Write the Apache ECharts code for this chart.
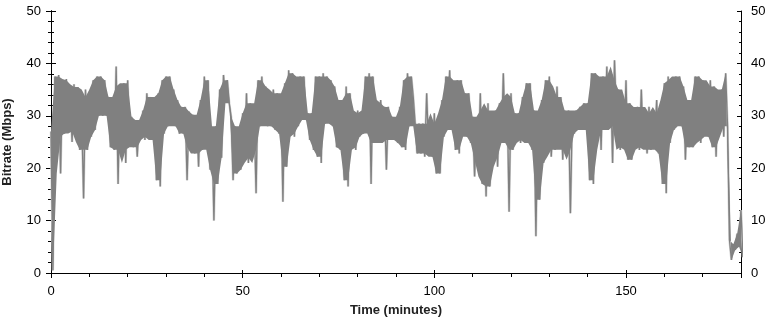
<!DOCTYPE html>
<html>
<head>
<meta charset="utf-8">
<script src="https://cdn.jsdelivr.net/npm/echarts@6/dist/echarts.min.js"></script>
<style>
html, body { margin: 0; padding: 0; background: #fff; }
#chart { width: 773px; height: 321px; }
</style>
</head>
<body>
<div id="chart"></div>
<script>
// minute index 0..180
var minutes = [];
for (var m = 0; m <= 180; m++) minutes.push(m);

// upper peaks, one per minute (Mbps)
var peakHigh = [
	27, 37.5, 37.8, 36.8, 37, 34, 36, 35.5, 30.5, 35,
	33.6, 36.8, 37.5, 37.5, 36.8, 33.6, 33, 39.4, 35.6, 36.2,
	36.8, 29.8, 29.2, 29.2, 31, 34.3, 33.6, 33, 34.3, 36.8,
	37.5, 37.5, 35, 33, 31.7, 31.7, 30.8, 30.2, 29.8, 33,
	37.5, 36.8, 27.3, 28, 35, 37.8, 36.8, 29.8, 28, 26,
	30.5, 34.3, 32.4, 29.8, 36.8, 37.5, 35.6, 34.3, 35, 34.3,
	33.6, 36.2, 38.7, 38.1, 36.8, 37.5, 37.5, 30.5, 30.5, 37.5,
	37.5, 38.1, 37.5, 36.8, 35.6, 33, 28, 35.6, 34.3, 30.5,
	31, 29.8, 37.5, 38.1, 37.5, 32.4, 33, 31.7, 31.7, 29.8,
	28.5, 31.7, 36.8, 38.1, 37.5, 28.5, 28.5, 28.5, 34.3, 28.5,
	30.5, 28.5, 33, 37.5, 38.7, 35, 36.8, 36.8, 34.3, 34.3,
	29.8, 28, 34.3, 31, 32.4, 30.5, 31, 32.4, 38.1, 33.6,
	34.3, 30.5, 30.5, 33.6, 36.2, 36.2, 31, 29.8, 33, 36.8,
	37.5, 29.8, 35.6, 33.6, 31, 31, 30.5, 31, 31.7, 32.4,
	32.4, 38.1, 38.1, 36.8, 37.5, 39.4, 36.8, 40.6, 35, 31.7,
	36.8, 32.4, 30.5, 31.7, 35, 30.5, 31.7, 30.5, 33, 29.8,
	36.2, 37.5, 36.8, 37.5, 37.5, 35.6, 33, 33, 37.5, 37.5,
	36.8, 32.4, 36.8, 35.6, 33.6, 35, 38.1, 6.3, 5.5, 7.5,
	12
];

// lower dips, half a minute later (Mbps)
var peakLow = [
	0.5, 26, 19, 26.6, 28, 25, 27, 23.5, 14.2, 23.5,
	26, 27.3, 30, 30, 30, 24, 23.5, 17, 23.5, 21,
	26, 24, 22.2, 26, 25.4, 28.5, 25.4, 17.7, 16.5, 26.6,
	28, 30, 28, 26.6, 26.6, 17.7, 24, 22.8, 20.3, 23.5,
	26.6, 19.7, 10, 17, 22, 33, 32.4, 17.7, 19, 19.7,
	22, 21, 23.5, 15.2, 28, 28.5, 28, 28, 27.3, 26.6,
	13.6, 20.3, 26.6, 26, 28, 30, 29.2, 25.4, 23.5, 22.2,
	21, 28.5, 30, 28, 24, 23.5, 17.7, 16.5, 24, 23.5,
	26, 26.6, 28, 17, 24.8, 24.8, 26, 19.7, 25.4, 25.4,
	24.8, 24, 23.5, 28, 33.6, 22.8, 22.8, 22.2, 24, 22.2,
	19, 19, 26, 28.5, 27.3, 23.5, 22.8, 26.6, 26, 24.8,
	18.4, 21.6, 17, 14.6, 16.5, 22.2, 20.3, 24.8, 25.4, 11.7,
	23.5, 26.6, 24.8, 25.4, 24.8, 23.5, 7, 14, 21, 23.5,
	22.2, 23.5, 24.8, 21.6, 23.5, 11.4, 26.6, 27.3, 27.3, 27.3,
	17.7, 17, 31, 23.5, 27.3, 28, 21, 30, 23.5, 24,
	21.6, 21.6, 24, 23.5, 24, 22.8, 23.5, 24.8, 22.8, 17,
	15.2, 24.8, 27.3, 30.5, 28, 21.6, 24, 24, 25.4, 24.8,
	27.3, 26, 24, 22.2, 28, 26, 28, 2.5, 4.4, 5,
	3
];

var yTicks = [0, 10, 20, 30, 40, 50];
var xTicks = [0, 50, 100, 150];

window.onload = function(){
	initBitrate();
};

function mid3(a, b, c) {
	return Math.max(Math.min(a, b), Math.min(Math.max(a, b), c));
}

function initBitrate(){
	var myChart = echarts.init(document.getElementById('chart'), null, {renderer: 'canvas'});
	var n = minutes.length;

	// zigzag between the peak and the dip of each minute
	var points = [];
	for (var i = 0; i < n; i++) {
		points.push([minutes[i], peakHigh[i]]);
		points.push([minutes[i] + 0.5, peakLow[i]]);
	}

	// dense core of the trace: lone spikes are left to the thin zigzag
	function renderCore(params, api) {
		if (params.dataIndex !== 0) return;
		var top = [], bottom = [];
		for (var i = 0; i < n; i++) {
			var a = Math.max(i - 1, 0), b = Math.min(i + 1, n - 1);
			var hi = mid3(peakHigh[a], peakHigh[i], peakHigh[b]);
			var lo = mid3(peakLow[a], peakLow[i], peakLow[b]);
			if (i >= 176) { hi = peakHigh[i]; lo = peakLow[i]; }
			if (lo > hi) lo = hi;
			top.push(api.coord([minutes[i], hi]));
			bottom.unshift(api.coord([minutes[i] + 0.5, lo]));
		}
		return {
			type: 'polygon',
			shape: {points: top.concat(bottom)},
			style: {fill: '#808080'}
		};
	}

	var labelFont = {color: '#000', fontSize: 13, fontFamily: 'Liberation Sans, Arial, sans-serif'};
	var nameFont = {color: '#222', fontSize: 13, fontWeight: 'bold', fontFamily: 'Liberation Sans, Arial, sans-serif'};
	var blackLine = {show: true, lineStyle: {color: '#000', width: 1}};

	var option = {
		animation: false,
		backgroundColor: '#fff',
		grid: {
			left: 51,
			right: 32,
			top: 11,
			bottom: 48,
			containLabel: false,
			outerBoundsMode: 'none'
		},
		xAxis: [{
			type: 'value',
			min: xTicks[0],
			max: 180,
			interval: xTicks[1] - xTicks[0],
			position: 'bottom',
			name: 'Time (minutes)',
			nameLocation: 'middle',
			nameGap: 31,
			nameTextStyle: nameFont,
			axisLine: blackLine,
			axisTick: {show: true, length: 5, lineStyle: {color: '#000'}},
			minorTick: {show: true, splitNumber: 5, length: 3, lineStyle: {color: '#000'}},
			axisLabel: Object.assign({margin: 12, showMaxLabel: false}, labelFont),
			splitLine: {show: false}
		}, {
			type: 'value',
			min: xTicks[0],
			max: 180,
			interval: xTicks[1] - xTicks[0],
			position: 'bottom',
			axisLine: blackLine,
			axisTick: {show: true, inside: true, length: 3, lineStyle: {color: '#000'}},
			axisLabel: {show: false},
			splitLine: {show: false}
		}, {
			type: 'value',
			min: 0,
			max: 180,
			interval: 10,
			position: 'top',
			axisLine: blackLine,
			axisTick: {show: true, inside: true, length: 4, lineStyle: {color: '#000'}},
			axisLabel: {show: false},
			splitLine: {show: false}
		}],
		yAxis: [{
			type: 'value',
			min: yTicks[0],
			max: yTicks[yTicks.length - 1],
			interval: yTicks[1] - yTicks[0],
			position: 'left',
			name: 'Bitrate (Mbps)',
			nameLocation: 'middle',
			nameGap: 37,
			nameTextStyle: nameFont,
			axisLine: blackLine,
			axisTick: {show: true, length: 5, lineStyle: {color: '#000'}},
			minorTick: {show: true, splitNumber: 5, length: 3, lineStyle: {color: '#000'}},
			axisLabel: Object.assign({margin: 10}, labelFont),
			splitLine: {show: false}
		}, {
			type: 'value',
			min: yTicks[0],
			max: yTicks[yTicks.length - 1],
			interval: yTicks[1] - yTicks[0],
			position: 'left',
			axisLine: blackLine,
			axisTick: {show: true, inside: true, length: 4, lineStyle: {color: '#000'}},
			minorTick: {show: true, splitNumber: 5, length: 2, lineStyle: {color: '#000'}},
			axisLabel: {show: false},
			splitLine: {show: false}
		}, {
			type: 'value',
			min: yTicks[0],
			max: yTicks[yTicks.length - 1],
			interval: yTicks[1] - yTicks[0],
			position: 'right',
			axisLine: blackLine,
			axisTick: {show: true, length: 5, lineStyle: {color: '#000'}},
			minorTick: {show: true, splitNumber: 5, length: 3, lineStyle: {color: '#000'}},
			axisLabel: Object.assign({margin: 10}, labelFont),
			splitLine: {show: false}
		}, {
			type: 'value',
			min: yTicks[0],
			max: yTicks[yTicks.length - 1],
			interval: yTicks[1] - yTicks[0],
			position: 'right',
			axisLine: blackLine,
			axisTick: {show: true, inside: true, length: 4, lineStyle: {color: '#000'}},
			minorTick: {show: true, splitNumber: 5, length: 2, lineStyle: {color: '#000'}},
			axisLabel: {show: false},
			splitLine: {show: false}
		}],
		series: [{
			// light halo round the trace
			type: 'line',
			data: points,
			showSymbol: false,
			sampling: 'none',
			clip: true,
			silent: true,
			lineStyle: {color: '#d0d0d0', width: 2.4},
			z: 1
		}, {
			type: 'custom',
			coordinateSystem: 'cartesian2d',
			data: [points[0]],
			renderItem: renderCore,
			clip: true,
			silent: true,
			z: 2
		}, {
			type: 'line',
			data: points,
			showSymbol: false,
			sampling: 'none',
			clip: true,
			silent: true,
			lineStyle: {color: '#808080', width: 1.3},
			z: 3
		}]
	};

	myChart.setOption(option);
}
</script>
</body>
</html>
